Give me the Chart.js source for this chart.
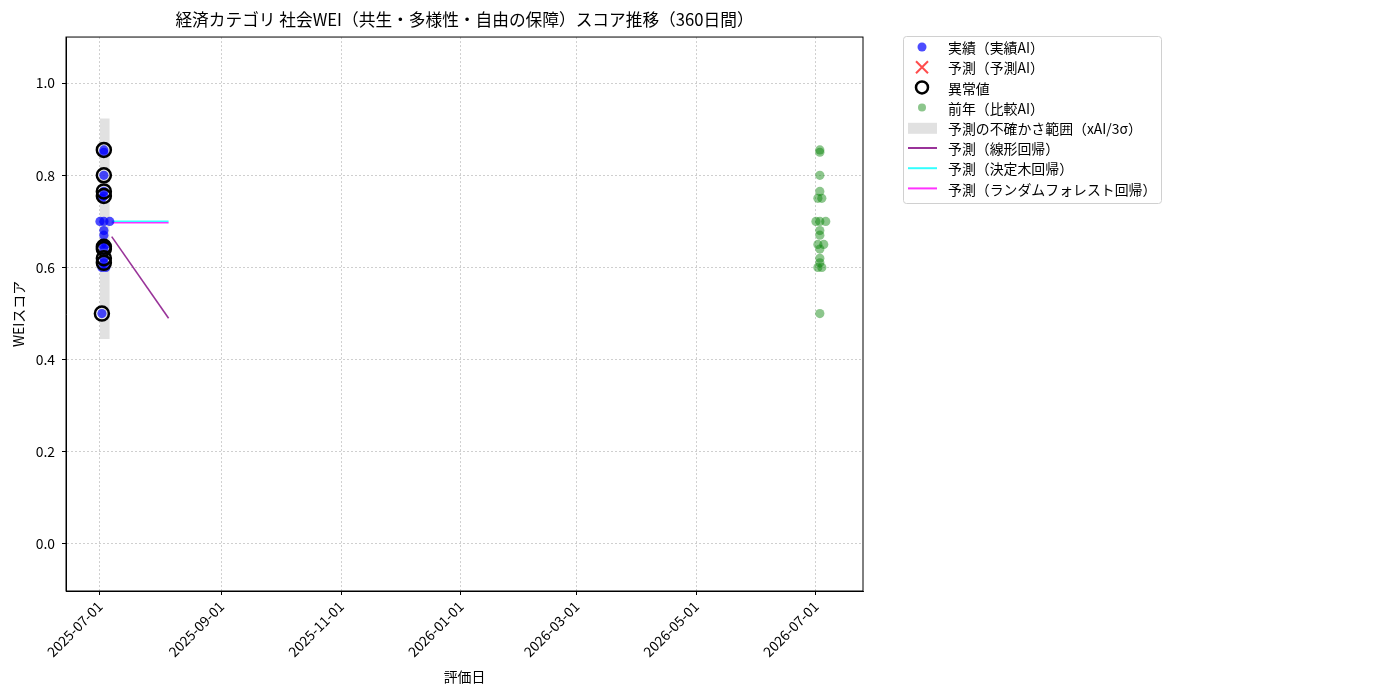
<!DOCTYPE html>
<html>
<head>
<meta charset="utf-8">
<script src="https://cdn.jsdelivr.net/npm/chart.js@4"></script>
<style>
  body { margin: 0; background: #fff; }
  #wrap { width: 1400px; height: 700px; }
</style>
</head>
<body>
<div id="wrap"><canvas id="weiChart" width="1400" height="700"></canvas></div>
<script>
// --- data ---
const baseDate = '2025-07-01';
const tickLabels = ['2025-07-01', '2025-09-01', '2025-11-01', '2026-01-01', '2026-03-01', '2026-05-01', '2026-07-01'];
const yTicks = [0.0, 0.2, 0.4, 0.6, 0.8, 1.0];

const actualDates = ['2025-07-03', '2025-07-03', '2025-07-03', '2025-07-03', '2025-07-02', '2025-07-03', '2025-07-01', '2025-07-03', '2025-07-06',
  '2025-07-03', '2025-07-03', '2025-07-02', '2025-07-04', '2025-07-03', '2025-07-03', '2025-07-03', '2025-07-02', '2025-07-04', '2025-07-02'];
const actualValues = [0.855, 0.85, 0.80, 0.765, 0.75, 0.755, 0.70, 0.70, 0.70,
  0.68, 0.67, 0.65, 0.65, 0.64, 0.62, 0.61, 0.60, 0.60, 0.50];

const outlierDates = ['2025-07-03', '2025-07-03', '2025-07-03', '2025-07-03', '2025-07-03', '2025-07-03', '2025-07-03', '2025-07-03', '2025-07-02'];
const outlierValues = [0.855, 0.80, 0.765, 0.755, 0.645, 0.64, 0.62, 0.61, 0.50];

const prevDates = ['2026-07-03', '2026-07-03', '2026-07-03', '2026-07-03', '2026-07-02', '2026-07-04', '2026-07-01', '2026-07-03', '2026-07-06',
  '2026-07-03', '2026-07-03', '2026-07-02', '2026-07-05', '2026-07-03', '2026-07-03', '2026-07-03', '2026-07-02', '2026-07-04', '2026-07-03'];
const prevValues = [0.855, 0.85, 0.80, 0.765, 0.75, 0.75, 0.70, 0.70, 0.70,
  0.68, 0.67, 0.65, 0.65, 0.64, 0.62, 0.61, 0.60, 0.60, 0.50];

const predAiDates = [];
const predAiValues = [];

const predDates = ['2025-07-07', '2025-08-05'];
const linearPred = [0.667, 0.49];
const treePred = [0.70, 0.70];
const forestPred = [0.697, 0.697];

const bandDates = ['2025-07-01', '2025-07-06'];
const bandUpper = [0.923, 0.923];
const bandLower = [0.445, 0.445];

// ---
const FONT = '"Noto Sans CJK JP", "Noto Sans", sans-serif';
const dayOf = s => (Date.parse(s) - Date.parse(baseDate)) / 86400000;
const pts = (ds, vs) => ds.map((d, i) => ({ x: dayOf(d), y: vs[i] }));
const tickDays = tickLabels.map(dayOf);

const sideLegend = {
  id: 'sideLegend',
  afterDraw(chart) {
    const ctx = chart.ctx;
    const ca = chart.chartArea;
    ctx.save();
    // plot frame
    ctx.strokeStyle = '#000';
    ctx.lineWidth = 1;
    ctx.strokeRect(ca.left, ca.top, ca.right - ca.left, ca.bottom - ca.top);

    const x0 = 903, y0 = 36, w = 258, h = 167;
    ctx.fillStyle = 'rgba(255,255,255,0.85)';
    ctx.strokeStyle = '#d0d0d0';
    ctx.beginPath();
    ctx.roundRect(x0 + 0.5, y0 + 0.5, w, h, 3);
    ctx.fill();
    ctx.stroke();

    const mx = 922, tx = 948, rowH = 20.2, firstY = 47;
    ctx.font = '13.9px ' + FONT;
    ctx.textBaseline = 'middle';
    chart.data.datasets.forEach(ds => {
      const k = ds.legendRow;
      if (k === undefined) return;
      const y = firstY + k * rowH;
      ctx.save();
      if (ds.legendKind === 'dot') {
        ctx.fillStyle = ds.backgroundColor;
        ctx.beginPath(); ctx.arc(mx, y, ds.legendR, 0, Math.PI * 2); ctx.fill();
      } else if (ds.legendKind === 'cross') {
        ctx.strokeStyle = ds.borderColor; ctx.lineWidth = 2;
        ctx.beginPath();
        ctx.moveTo(mx - 6, y - 6); ctx.lineTo(mx + 6, y + 6);
        ctx.moveTo(mx + 6, y - 6); ctx.lineTo(mx - 6, y + 6);
        ctx.stroke();
      } else if (ds.legendKind === 'ring') {
        ctx.strokeStyle = '#000'; ctx.lineWidth = 2.5;
        ctx.beginPath(); ctx.arc(mx, y, 6, 0, Math.PI * 2); ctx.stroke();
      } else if (ds.legendKind === 'patch') {
        ctx.fillStyle = 'rgba(200,200,200,0.55)';
        ctx.fillRect(908, y - 5, 29, 11);
      } else if (ds.legendKind === 'line') {
        ctx.strokeStyle = ds.borderColor; ctx.lineWidth = 2;
        ctx.beginPath(); ctx.moveTo(908, y); ctx.lineTo(937, y); ctx.stroke();
      }
      ctx.restore();
      ctx.fillStyle = '#000';
      ctx.fillText(ds.label, tx, y + 1);
    });
    ctx.restore();
  }
};

const gridStyle = {
  color: 'rgba(180,180,180,0.8)',
  lineWidth: 0.8,
  tickColor: '#000',
  tickLength: 4,
  tickBorderDash: [],
  tickWidth: 1
};

new Chart(document.getElementById('weiChart'), {
  type: 'scatter',
  data: {
    datasets: [
      {
        label: '予測の不確かさ範囲（xAI/3σ）',
        type: 'line', data: pts(bandDates, bandLower),
        borderWidth: 0, pointRadius: 0, fill: false, order: 10
      },
      {
        label: '予測の不確かさ範囲（xAI/3σ）',
        type: 'line', data: pts(bandDates, bandUpper),
        borderWidth: 0, pointRadius: 0, fill: '-1',
        backgroundColor: 'rgba(200,200,200,0.55)', order: 10,
        legendRow: 4, legendKind: 'patch'
      },
      {
        label: '予測（線形回帰）', type: 'line', data: pts(predDates, linearPred),
        borderColor: 'rgba(128,0,128,0.8)', borderWidth: 1.6, pointRadius: 0, order: 8,
        legendRow: 5, legendKind: 'line'
      },
      {
        label: '予測（決定木回帰）', type: 'line', data: pts(predDates, treePred),
        borderColor: 'rgba(0,255,255,0.8)', borderWidth: 1.6, pointRadius: 0, order: 7,
        legendRow: 6, legendKind: 'line'
      },
      {
        label: '予測（ランダムフォレスト回帰）', type: 'line', data: pts(predDates, forestPred),
        borderColor: 'rgba(255,0,255,0.8)', borderWidth: 1.6, pointRadius: 0, order: 6,
        legendRow: 7, legendKind: 'line'
      },
      {
        label: '実績（実績AI）', data: pts(actualDates, actualValues),
        backgroundColor: 'rgba(0,0,255,0.7)', borderWidth: 0, pointRadius: 4.6, order: 4,
        legendRow: 0, legendKind: 'dot', legendR: 4.5
      },
      {
        label: '予測（予測AI）', data: pts(predAiDates, predAiValues),
        borderColor: 'rgba(255,0,0,0.7)', pointStyle: 'crossRot', pointRadius: 6, borderWidth: 2, order: 3,
        legendRow: 1, legendKind: 'cross'
      },
      {
        label: '異常値', data: pts(outlierDates, outlierValues),
        backgroundColor: 'rgba(0,0,0,0)', borderColor: '#000', borderWidth: 2.5, pointRadius: 7, order: 2,
        legendRow: 2, legendKind: 'ring'
      },
      {
        label: '前年（比較AI）', data: pts(prevDates, prevValues),
        backgroundColor: 'rgba(0,128,0,0.45)', borderWidth: 0, pointRadius: 4.6, order: 1,
        legendRow: 3, legendKind: 'dot', legendR: 4
      }
    ]
  },
  options: {
    responsive: false,
    animation: false,
    layout: { padding: { left: 0, right: 537, top: 0, bottom: 0 } },
    plugins: {
      legend: { display: false },
      tooltip: { enabled: false },
      title: {
        display: true,
        fullSize: false,
        text: '経済カテゴリ 社会WEI（共生・多様性・自由の保障）スコア推移（360日間）',
        color: '#000',
        font: { family: FONT, size: 16.7, weight: 'normal', lineHeight: 1.2 },
        padding: { top: 10, bottom: 7 }
      }
    },
    scales: {
      x: {
        type: 'linear',
        min: -17.3,
        max: 389,
        afterFit: s => { s.height = 109; },
        afterBuildTicks: s => { s.ticks = tickDays.map(v => ({ value: v })); },
        grid: gridStyle,
        border: { display: true, color: '#000', dash: [2, 2] },
        ticks: {
          minRotation: 45, maxRotation: 45, autoSkip: false,
          color: '#000', padding: 3,
          font: { family: FONT, size: 13.9 },
          callback: v => tickLabels[tickDays.indexOf(v)]
        },
        title: {
          display: true, text: '評価日', color: '#000',
          font: { family: FONT, size: 13.9 },
          padding: { top: 4, bottom: 15 }
        }
      },
      y: {
        min: -0.102,
        max: 1.1,
        afterFit: s => { s.width = 66; },
        afterBuildTicks: s => { s.ticks = yTicks.map(v => ({ value: v })); },
        grid: gridStyle,
        border: { display: true, color: '#000', dash: [2, 2] },
        ticks: {
          color: '#000', padding: 7,
          font: { family: FONT, size: 13.9 },
          callback: v => v.toFixed(1)
        },
        title: {
          display: true, text: 'WEIスコア', color: '#000',
          font: { family: FONT, size: 13.9 },
          padding: { top: 10, bottom: 4 }
        }
      }
    }
  },
  plugins: [sideLegend]
});
</script>
</body>
</html>
